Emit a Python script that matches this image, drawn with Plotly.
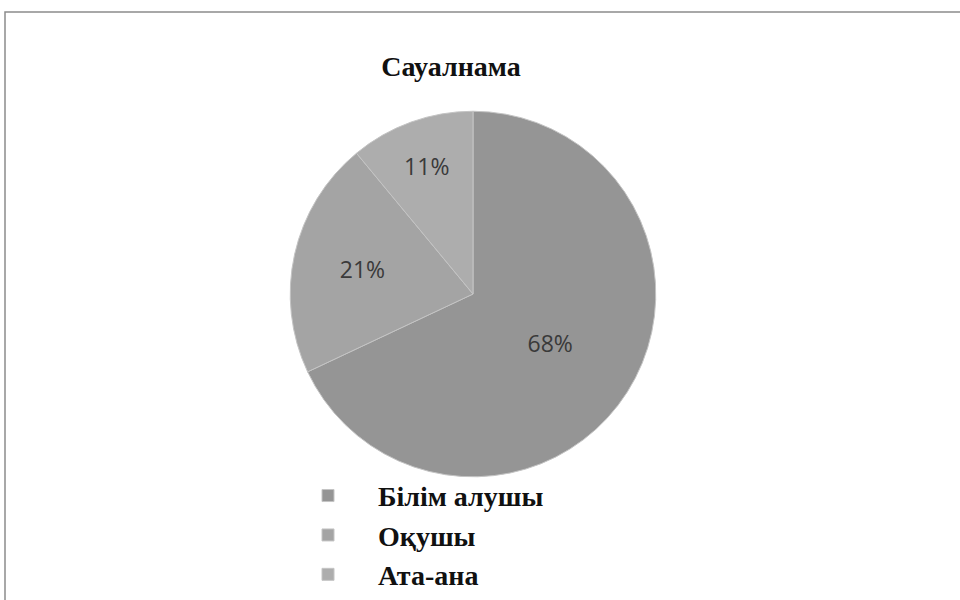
import plotly.graph_objects as go

labels = ["Білім алушы", "Оқушы", "Ата-ана"]
values = [68, 21, 11]
colors = ["#959595", "#a4a4a4", "#adadad"]

fig = go.Figure(go.Pie(
    labels=labels,
    values=values,
    sort=False,
    direction="clockwise",
    rotation=0,
    marker=dict(colors=colors, line=dict(color="#c4c4c4", width=1)),
    textinfo="percent",
    textposition="inside",
    insidetextorientation="horizontal",
    textfont=dict(family="Open Sans", size=23, color="#3a3a3a"),
    domain=dict(x=[289/960, 657/960], y=[120/600, 488/600]),
    hoverinfo="label+percent",
))

fig.update_layout(
    width=960, height=600,
    margin=dict(l=0, r=0, t=0, b=0),
    paper_bgcolor="white",
    plot_bgcolor="white",
    title=dict(text="<b>Сауалнама</b>", x=451/960, xanchor="center",
               y=1-66/600, yanchor="middle",
               font=dict(family="Liberation Serif", size=28, color="#111111")),
    showlegend=True,
    legend=dict(x=278/960, xanchor="left", y=1-474/600, yanchor="top",
                font=dict(family="Liberation Serif", size=28, color="#111111",
                          weight="bold"),
                itemwidth=90, bgcolor="rgba(0,0,0,0)"),
    shapes=[dict(type="rect", xref="paper", yref="paper",
                 x0=5/960, x1=1.02, y0=-0.02, y1=1-12/600,
                 line=dict(color="#8c8c8c", width=1.5))],
)

fig.write_html("out.html", config={"displayModeBar": False},
               post_script="document.body.style.margin='0';document.body.style.overflow='hidden';")
